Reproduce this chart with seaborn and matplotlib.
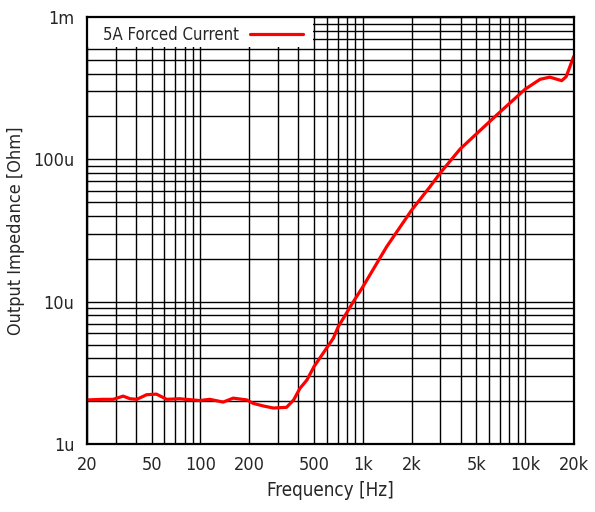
import matplotlib
matplotlib.use("Agg")
import matplotlib.pyplot as plt
import matplotlib.ticker as mticker
from matplotlib.patches import Rectangle
import seaborn as sns
import pandas as pd

freq_hz = [20, 25, 29, 33.4, 36.8, 40.5, 46.6, 53.6, 62, 74, 99, 114, 138, 159, 193,
           211, 244, 281, 339, 375, 410, 453, 500, 658, 706, 875, 1000, 1405, 2000,
           2596, 2992, 3973, 6686, 10000, 12360, 14200, 16800, 17900, 19900]
impedance_u = [2.04, 2.06, 2.06, 2.17, 2.08, 2.06, 2.22, 2.24, 2.06, 2.08, 2.02, 2.06, 1.97,
               2.10, 2.04, 1.93, 1.85, 1.79, 1.81, 2.04, 2.46, 2.82, 3.49, 5.53, 6.67, 10.0,
               12.7, 24.4, 44.0, 64.3, 79.9, 118, 205, 311, 365, 378, 357, 381, 527]
series_name = "5A Forced Current"
x_ticks = [20, 50, 100, 200, 500, 1000, 2000, 5000, 10000, 20000]
x_tick_labels = ["20", "50", "100", "200", "500", "1k", "2k", "5k", "10k", "20k"]
y_ticks = [1e-6, 1e-5, 1e-4, 1e-3]
y_tick_labels = ["1u", "10u", "100u", "1m"]

df = pd.DataFrame({"Frequency": freq_hz,
                   "Impedance": [v * 1e-6 for v in impedance_u]})

sns.set_style("white")
plt.rcParams["font.family"] = ["DejaVu Sans"]
plt.rcParams["font.stretch"] = "condensed"

fig = plt.figure(figsize=(5.95, 5.12), dpi=100)
ax = fig.add_axes([87 / 595, 1 - 444 / 512, (574 - 87) / 595, (444 - 17) / 512])

sns.lineplot(data=df, x="Frequency", y="Impedance", ax=ax, color="#ff0000",
             linewidth=2.3, label=series_name, zorder=3)

ax.set_xscale("log")
ax.set_yscale("log")
ax.set_xlim(20, 20000)
ax.set_ylim(1e-6, 1e-3)

ax.xaxis.set_major_locator(mticker.FixedLocator(x_ticks))
ax.xaxis.set_major_formatter(mticker.FixedFormatter(x_tick_labels))
ax.xaxis.set_minor_locator(mticker.LogLocator(base=10, subs=range(1, 10), numticks=50))
ax.xaxis.set_minor_formatter(mticker.NullFormatter())
ax.yaxis.set_major_locator(mticker.FixedLocator(y_ticks))
ax.yaxis.set_major_formatter(mticker.FixedFormatter(y_tick_labels))
ax.yaxis.set_minor_locator(mticker.LogLocator(base=10, subs=range(1, 10), numticks=50))
ax.yaxis.set_minor_formatter(mticker.NullFormatter())

ax.grid(True, which="both", color="black", linewidth=1.0)
ax.tick_params(which="both", direction="in", length=4, width=1, color="black",
               labelsize=13, pad=9)
ax.tick_params(which="minor", length=3)

for s in ax.spines.values():
    s.set_color("black")
    s.set_linewidth(1.6)
    s.set_zorder(6)

ax.set_xlabel("Frequency [Hz]", fontsize=13.5, labelpad=5)
ax.set_ylabel("Output Impedance [Ohm]", fontsize=13, labelpad=6)

# white key box (gnuplot style), covering the grid behind the legend
ax.add_patch(Rectangle((0.0, (444 - 47) / 427), (313 - 87) / 487, 1 - (444 - 47) / 427,
                       transform=ax.transAxes, facecolor="white", edgecolor="none",
                       zorder=4, clip_on=False))

leg = ax.legend(loc="upper left", bbox_to_anchor=((103 - 87) / 487, (444 - 26) / 427),
                markerfirst=False, frameon=False, fontsize=12,
                borderaxespad=0.0, borderpad=0.0, handlelength=3.2,
                handletextpad=0.65)
leg.set_zorder(5)

fig.savefig("out.png", dpi=100)
